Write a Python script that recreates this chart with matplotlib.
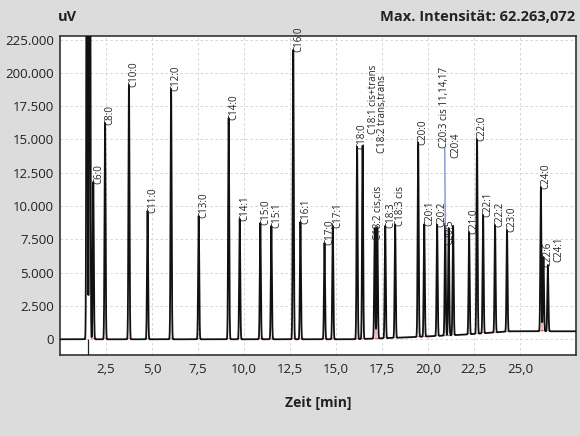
import numpy as np
import matplotlib
matplotlib.use("Agg")
import matplotlib.pyplot as plt

plt.rcParams['font.family'] = ['Open Sans', 'DejaVu Sans']

# peak retention times [min], heights [uV scale units], labels
peak_times = [1.81, 2.45, 3.75, 4.76, 6.04, 7.54, 9.17, 9.77, 10.89, 11.49,
              12.68, 13.07, 14.38, 14.83, 16.15, 16.45, 17.11, 17.25, 17.68, 18.22,
              19.47, 19.80, 20.50, 20.94, 21.13, 21.37, 22.24, 22.67, 23.00, 23.65,
              24.30, 26.14, 26.28, 26.52]
peak_heights = [11810, 16240, 19090, 9630, 18790, 9260, 16610, 9030, 8730, 8510,
                21720, 8810, 7230, 8510, 14440, 14510, 8280, 8360, 8430, 8510,
                14590, 8430, 8360, 8210, 8060, 8210, 7680, 14590, 8880, 8060,
                7610, 10830, 5580, 4980]
peak_labels = ['C6:0', 'C8:0', 'C10:0', 'C11:0', 'C12:0', 'C13:0', 'C14:0', 'C14:1', 'C15:0', 'C15:1',
               'C16:0', 'C16:1', 'C17:0', 'C17:1', 'C18:0', 'C18:1 cis+trans', 'C18:2 trans,trans',
               'C18:2 cis,cis', 'C18:3', 'C18:3 cis',
               'C20:0', 'C20:1', 'C20:2', 'C20:3 cis 11,14,17', 'C20:5', 'C20:4', 'C21:0', 'C22:0',
               'C22:1', 'C22:2', 'C23:0', 'C24:0', 'C22:6', 'C24:1']

# solvent front
solvent_times = [1.47, 1.62]
solvent_heights = [60000, 60000]

# baseline drift
drift_t = [0, 16.0, 19.0, 22.0, 24.5, 28.0]
drift_v = [0, 0, 150, 350, 600, 600]

yticks = [0, 2500, 5000, 7500, 10000, 12500, 15000, 17500, 20000, 22500]
ytick_labels = ['0', '2.500', '5.000', '7.500', '10.000', '12.500', '15.000', '17.500',
                '200.000', '225.000']
xticks = [2.5, 5.0, 7.5, 10.0, 12.5, 15.0, 17.5, 20.0, 22.5, 25.0]
xtick_labels = ['2,5', '5,0', '7,5', '10,0', '12,5', '15,0', '17,5', '20,0', '22,5', '25,0']

# labels that were moved away from their peaks (x, y of label foot)
label_moves = {
    'C18:1 cis+trans': (17.03, 15400),
    'C18:2 trans,trans': (17.55, 14000),
    'C18:2 cis,cis': (17.33, 7450),
    'C20:3 cis 11,14,17': (20.92, 14350),
    'C20:4': (21.52, 13600),
    'C20:5': (21.21, 7080),
    'C22:6': (26.54, 5400),
    'C24:1': (27.10, 5800),
}

bg = '#dcdcdc'
fig = plt.figure(figsize=(5.8, 4.36), dpi=100, facecolor=bg)
ax = fig.add_axes([0.1034, 0.1858, 0.8897, 0.7317])
ax.set_facecolor('white')

t = np.linspace(0, 28, 28001)
sigma = 0.028
y = np.interp(t, drift_t, drift_v)
for pt, ph in zip(peak_times + solvent_times, peak_heights + solvent_heights):
    y = y + ph * np.exp(-0.5 * ((t - pt) / sigma) ** 2)

ymin, ymax = -1180, 22770

# red integration marks under the peaks
for pt in peak_times:
    base = np.interp(pt, drift_t, drift_v)
    ax.plot([pt - 0.13, pt + 0.13], [base + 60, base + 60], color='#e06060', lw=0.8, alpha=0.7, zorder=2)
# drop lines between peaks that are close together
for a, b in zip(peak_times[:-1], peak_times[1:]):
    if b - a < 0.3:
        m = 0.5 * (a + b)
        ax.plot([m, m], [np.interp(m, drift_t, drift_v), np.interp(m, t, y)],
                color='#e07070', lw=1.2, alpha=0.6, zorder=2)

ax.plot(t, y, color='#111111', lw=1.3, zorder=3)
ax.vlines(np.mean(solvent_times), ymin, 0, color='#222222', lw=0.9, zorder=3)

for pt, ph, lab in zip(peak_times, peak_heights, peak_labels):
    if lab in label_moves:
        lx, ly = label_moves[lab]
    else:
        lx, ly = pt + 0.28, ph + np.interp(pt, drift_t, drift_v) - 150
    ax.text(lx, ly, lab, rotation=90, ha='center', va='bottom', fontsize=7,
            color='#222222', zorder=4)

# leader line for the displaced C20:3 label
i = peak_labels.index('C20:3 cis 11,14,17')
ax.plot([peak_times[i], label_moves['C20:3 cis 11,14,17'][0]],
        [peak_heights[i], label_moves['C20:3 cis 11,14,17'][1]],
        color='#5060c0', lw=0.7, zorder=4)

ax.set_xlim(0, 28.05)
ax.set_ylim(ymin, ymax)
ax.set_xticks(xticks)
ax.set_xticklabels(xtick_labels)
ax.set_yticks(yticks)
ax.set_yticklabels(ytick_labels)
ax.tick_params(length=0, labelsize=9.5, colors='#222222')
ax.tick_params(axis='y', pad=4.5)
ax.tick_params(axis='x', pad=5.5)
ax.grid(True, color='#cfcfcf', linestyle=(0, (3, 3)), lw=0.6)
ax.set_axisbelow(True)
for s in ax.spines.values():
    s.set_color('#333333')
    s.set_linewidth(1.2)

ax.set_xlabel('Zeit [min]', fontsize=10, fontweight='bold', color='#222222', labelpad=15)
fig.text(58 / 580, 1 - 17 / 436, 'uV', fontsize=10.5, fontweight='bold', color='#222222',
         ha='left', va='center')
fig.text(575 / 580, 1 - 17 / 436, 'Max. Intensität: 62.263,072', fontsize=10.5,
         fontweight='bold', color='#222222', ha='right', va='center')

fig.savefig('out.png', dpi=100, facecolor=bg)
